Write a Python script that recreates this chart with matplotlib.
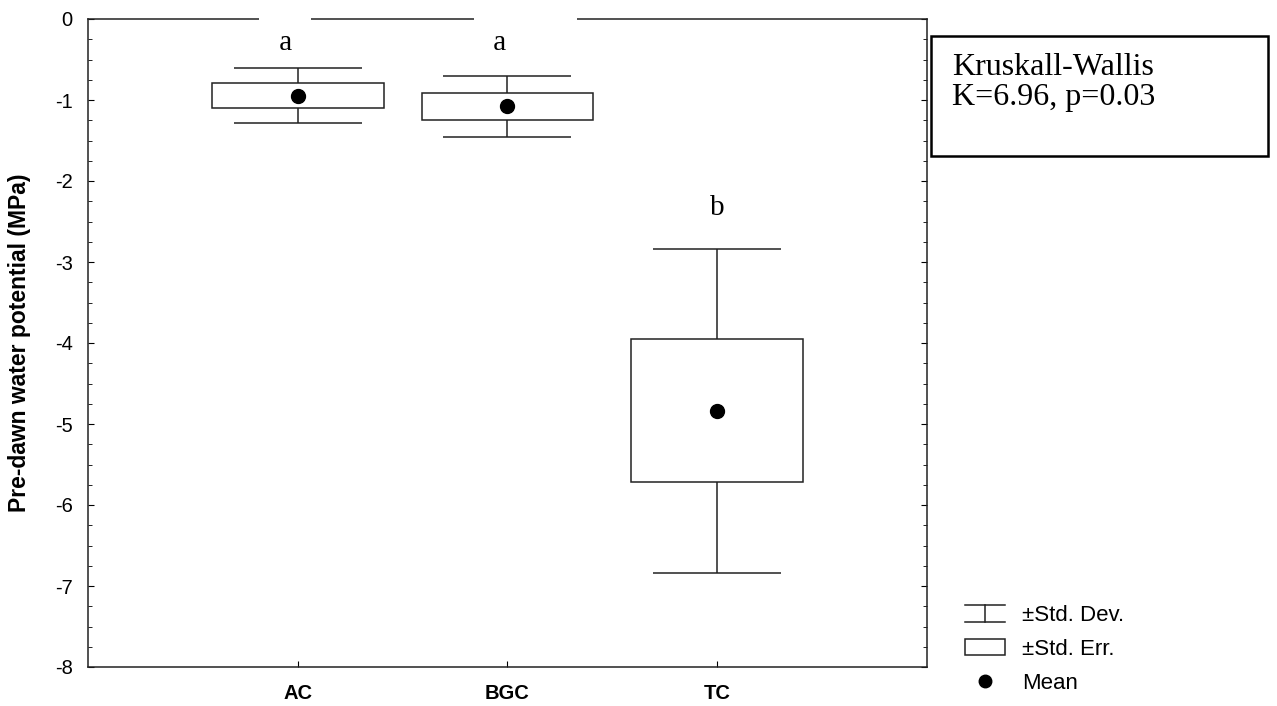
import numpy as np
import matplotlib
matplotlib.use('Agg')
from matplotlib import pyplot as plt
from matplotlib.legend_handler import HandlerBase
from matplotlib.lines import Line2D
from matplotlib.patches import Rectangle
from matplotlib.ticker import MultipleLocator

plt.rcParams['font.family'] = ['Liberation Sans', 'DejaVu Sans']
plt.rcParams['axes.unicode_minus'] = False

# data (MPa)
groups = ['AC', 'BGC', 'TC']
means = [-0.945, -1.08, -4.835]
std_err = [0.153, 0.17, 0.885]
std_dev = [0.345, 0.38, 2.0]
letters = ['a', 'a', 'b']
letter_y = [-0.3, -0.3, -2.33]

x = np.arange(1, len(groups) + 1)
means = np.array(means)
std_err = np.array(std_err)
std_dev = np.array(std_dev)

fig = plt.figure(figsize=(12.77, 7.06), dpi=100)
ax = fig.add_axes([88 / 1277, 1 - 667 / 706, (927 - 88) / 1277, (667 - 19) / 706])

lc = '#222222'
# whiskers (mean +- sd)
ax.errorbar(x, means, yerr=std_dev, fmt='none', ecolor=lc, elinewidth=1.1,
            capsize=46, capthick=1.1, zorder=3)
# boxes (mean +- se)
ax.bar(x, 2 * std_err, bottom=means - std_err, width=0.82, facecolor='white',
       edgecolor=lc, linewidth=1.1, zorder=4)
ax.plot(x, means, 'o', color='black', ms=10, zorder=5)

# significance letters (white background breaks the top frame like the original)
serif = ['Liberation Serif', 'DejaVu Serif']
shown = [' ' + letters[0] + ' ', ' ' + letters[1] + ' ' * 8, letters[2]]
offsets = [-9, 13, 0]
for xi, yi, s, off in zip(x, letter_y, shown, offsets):
    ax.annotate(s, (xi, yi), xytext=(off, 0), textcoords='offset points',
                fontsize=21, family=serif, ha='center', va='center',
                zorder=2.8, annotation_clip=False,
                bbox=dict(boxstyle='square,pad=0.42', fc='white', ec='none'))

ax.set_xlim(0, 4)
ax.set_ylim(-8, 0)
ax.set_xticks(x)
ax.set_xticklabels(groups, fontsize=14.5, fontweight='bold')
ax.yaxis.set_major_locator(MultipleLocator(1))
ax.yaxis.set_minor_locator(MultipleLocator(0.25))
ax.set_yticklabels([str(int(v)) for v in ax.get_yticks()], fontsize=14.5)
ax.tick_params(axis='y', which='both', direction='in', left=True, right=True)
ax.tick_params(axis='y', which='major', length=4, pad=11)
ax.tick_params(axis='y', which='minor', length=3)
ax.tick_params(axis='x', direction='in', length=4, pad=12)
for sp in ax.spines.values():
    sp.set_linewidth(1.1)
    sp.set_color(lc)

ax.set_ylabel('Pre-dawn water potential (MPa)', fontsize=16.5, fontweight='bold')
ax.yaxis.set_label_coords((31 - 88) / (927 - 88), 0.5)

# Kruskal-Wallis box
fig.patches.append(Rectangle((931 / 1277, 1 - 156 / 706), (1268 - 931) / 1277, 120 / 706,
                             transform=fig.transFigure, fill=False, ec='black', lw=1.8))
fig.text(952 / 1277, 1 - 75 / 706, 'Kruskall-Wallis', fontsize=23, family=serif, va='baseline')
fig.text(952 / 1277, 1 - 105 / 706, 'K=6.96, p=0.03', fontsize=23, family=serif, va='baseline')


# legend handles
class WhiskerHandler(HandlerBase):
    def create_artists(self, legend, orig, xd, yd, w, h, fs, trans):
        x0, y0 = -xd, -yd
        arts = [Line2D([x0, x0 + w], [y0 + h, y0 + h]),
                Line2D([x0, x0 + w], [y0, y0]),
                Line2D([x0 + w / 2, x0 + w / 2], [y0, y0 + h])]
        for a in arts:
            a.set_color(lc)
            a.set_linewidth(1.1)
            a.set_transform(trans)
        return arts


class BoxHandler(HandlerBase):
    def create_artists(self, legend, orig, xd, yd, w, h, fs, trans):
        r = Rectangle((-xd, -yd), w, h, fc='white', ec=lc, lw=1.1, transform=trans)
        return [r]


h_sd = Line2D([], [])
h_se = Rectangle((0, 0), 1, 1)
h_mean = Line2D([], [], marker='o', color='black', ls='none', ms=9)
fig.legend([h_sd, h_se, h_mean], ['\u00b1Std. Dev.', '\u00b1Std. Err.', 'Mean'],
           handler_map={h_sd: WhiskerHandler(), h_se: BoxHandler()},
           loc='upper left', bbox_to_anchor=(965 / 1277, 1 - 605 / 706),
           frameon=False, fontsize=16, handlelength=1.8, handleheight=0.77,
           handletextpad=0.77, labelspacing=0.58, borderpad=0, borderaxespad=0)

plt.savefig('out.png', dpi=100)
